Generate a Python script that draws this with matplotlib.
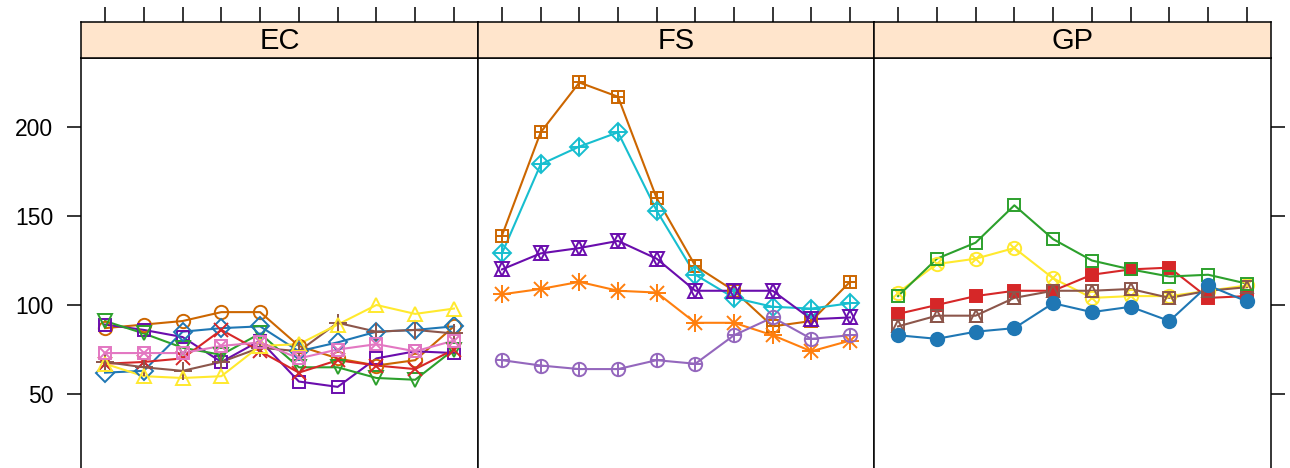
import matplotlib
matplotlib.use("Agg")
import matplotlib.pyplot as plt
import numpy as np

plt.rcParams["font.family"] = ["Liberation Sans", "DejaVu Sans"]

# time index shared by every series
x = np.arange(1, 11)

panels = ["EC", "FS", "GP"]

# EC panel series
ec_circle   = [87, 89, 91, 96, 96, 77, 70, 66, 69, 88]
ec_square   = [89, 86, 82, 68, 80, 57, 54, 70, 74, 73]
ec_downtri  = [91, 84, 76, 72, 84, 65, 65, 59, 58, 75]
ec_diamond  = [62, 63, 85, 87, 88, 74, 79, 85, 86, 88]
ec_cross    = [67, 68, 70, 86, 74, 62, 69, 66, 64, 75]
ec_plus     = [68, 65, 63, 68, 76, 74, 90, 85, 86, 84]
ec_triangle = [67, 60, 59, 60, 77, 78, 89, 100, 95, 98]
ec_boxcross = [73, 73, 73, 77, 79, 70, 75, 78, 74, 80]

# FS panel series
fs_boxplus     = [139, 197, 225, 217, 160, 122, 108, 88, 91, 113]
fs_diamondplus = [129, 179, 189, 197, 153, 117, 104, 99, 98, 101]
fs_star        = [120, 129, 132, 136, 126, 108, 108, 108, 92, 93]
fs_asterisk    = [106, 109, 113, 108, 107, 90, 90, 83, 74, 80]
fs_circleplus  = [69, 66, 64, 64, 69, 67, 83, 93, 81, 83]

# GP panel series
gp_circlecross = [107, 123, 126, 132, 115, 104, 105, 105, 108, 111]
gp_fillsquare  = [95, 100, 105, 108, 108, 117, 120, 121, 104, 105]
gp_boxtri      = [88, 94, 94, 104, 108, 108, 109, 104, 108, 110]
gp_square      = [105, 126, 135, 156, 137, 125, 120, 116, 117, 112]
gp_fillcircle  = [83, 81, 85, 87, 101, 96, 99, 91, 111, 102]

yticks = [50, 100, 150, 200]

BLUE = "#1F77B4"
DKORANGE = "#CC6600"
GREEN = "#2CA02C"
RED = "#D62728"
PURPLE = "#6A0DAD"
BROWN = "#8C564B"
YELLOW = "#FFE92E"
PINK = "#E377C2"
CYAN = "#17BECF"
ORANGE = "#FF7F0E"
LAVENDER = "#9467BD"

MS = 9.6
# each symbol is a list of (marker, size factor, filled)
SYM = {
    "circle":      [("o", 1.0, False)],
    "square":      [("s", 0.95, False)],
    "downtri":     [("v", 1.05, False)],
    "diamond":     [("D", 1.0, False)],
    "cross":       [("x", 1.0, False)],
    "plus":        [("+", 1.4, False)],
    "triangle":    [("^", 1.05, False)],
    "boxcross":    [("s", 0.95, False), ("x", 0.95, False)],
    "boxplus":     [("s", 0.95, False), ("+", 0.95, False)],
    "diamondplus": [("D", 1.0, False), ("+", 1.4, False)],
    "star":        [("^", 1.05, False), ("v", 1.05, False)],
    "asterisk":    [("+", 1.4, False), ("x", 1.0, False)],
    "circleplus":  [("o", 1.0, False), ("+", 1.0, False)],
    "circlecross": [("o", 1.0, False), ("x", 0.72, False)],
    "boxtri":      [("s", 0.95, False), ("^", 0.9, False)],
    "fillsquare":  [("s", 0.95, True)],
    "fillcircle":  [("o", 1.0, True)],
}

series = {
    "EC": [(ec_circle, DKORANGE, "circle"), (ec_square, PURPLE, "square"),
           (ec_downtri, GREEN, "downtri"), (ec_diamond, BLUE, "diamond"),
           (ec_cross, RED, "cross"), (ec_plus, BROWN, "plus"),
           (ec_triangle, YELLOW, "triangle"), (ec_boxcross, PINK, "boxcross")],
    "FS": [(fs_boxplus, DKORANGE, "boxplus"), (fs_diamondplus, CYAN, "diamondplus"),
           (fs_star, PURPLE, "star"), (fs_asterisk, ORANGE, "asterisk"),
           (fs_circleplus, LAVENDER, "circleplus")],
    "GP": [(gp_circlecross, YELLOW, "circlecross"), (gp_fillsquare, RED, "fillsquare"),
           (gp_boxtri, BROWN, "boxtri"), (gp_square, GREEN, "square"),
           (gp_fillcircle, BLUE, "fillcircle")],
}

W, H = 1290, 468
fig = plt.figure(figsize=(W / 100, H / 100), dpi=100)

panel_left = [81, 478, 874]
panel_right = [478, 874, 1271]
top_px, strip_top_px = 58, 22
bottom_frac = -0.2
# y scale: 200 sits at pixel 127, 50 at pixel 394
px_per_unit = (394 - 127) / 150
y_top = 50 + (394 - top_px) / px_per_unit
y_bot = 50 - (H - bottom_frac * H - 394) / px_per_unit
xlim = (0.38, 10.62)

for i, name in enumerate(panels):
    l = panel_left[i] / W
    w = (panel_right[i] - panel_left[i]) / W
    ax = fig.add_axes([l, bottom_frac, w, 1 - top_px / H - bottom_frac])
    ax.set_xlim(*xlim)
    ax.set_ylim(y_bot, y_top)
    for sp in ax.spines.values():
        sp.set_linewidth(1.1)
    ax.set_xticks([])
    ax.set_yticks(yticks)
    ax.tick_params(axis="y", direction="out", length=10, width=1.1,
                   labelsize=16.5, pad=10,
                   left=(i == 0), labelleft=(i == 0),
                   right=(i == 2), labelright=False)

    for vals, col, sym in series[name]:
        ax.plot(x, vals, color=col, lw=1.5, zorder=2)
        for m, f, filled in SYM[sym]:
            ax.plot(x, vals, ls="none", marker=m, ms=MS * f,
                    mec=col, mew=1.4,
                    mfc=col if filled else "none", zorder=3)

    # strip with the panel name; its top edge carries the x ticks
    sax = fig.add_axes([l, 1 - top_px / H, w, (top_px - strip_top_px) / H])
    sax.set_facecolor("#FFE5CC")
    sax.set_xlim(*xlim)
    sax.set_ylim(0, 1)
    for sp in sax.spines.values():
        sp.set_linewidth(1.1)
    sax.set_yticks([])
    sax.set_xticks(x)
    sax.xaxis.set_ticks_position("top")
    sax.tick_params(axis="x", direction="out", length=11, width=1.1,
                    labeltop=False, labelbottom=False)
    sax.text(0.5, 0.47, name, transform=sax.transAxes, ha="center",
             va="center", fontsize=21)

fig.savefig("out.png", dpi=100)
